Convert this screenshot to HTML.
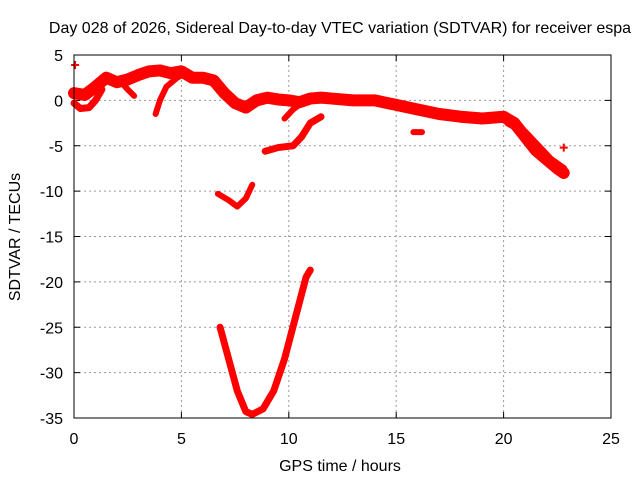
<!DOCTYPE html>
<html><head><meta charset="utf-8"><style>
body{margin:0;background:#fff;font-family:"Liberation Sans",sans-serif}
svg text{font-family:"Liberation Sans",sans-serif;font-size:16px;fill:#000}
</style></head><body>
<svg id="c" width="640" height="480" xmlns="http://www.w3.org/2000/svg">
<text x="340" y="33" text-anchor="middle">Day 028 of 2026, Sidereal Day-to-day VTEC variation (SDTVAR) for receiver espa</text>
<text x="340" y="471" text-anchor="middle">GPS time / hours</text>
<text transform="translate(20,237) rotate(-90)" text-anchor="middle">SDTVAR / TECUs</text>
<g id="grid"></g><g id="ticks"></g><g id="marks"></g>
<rect x="74" y="55" width="537" height="363" fill="none" stroke="#000" stroke-width="1"/>
</svg>
<script>
const xTicks=[0,5,10,15,20,25];
const yTicks=[5,0,-5,-10,-15,-20,-25,-30,-35];
const mainH=[0,0.5,1,1.5,2,2.5,3,3.5,4,4.5,5,5.5,6,6.5,7,7.5,8,8.5,9,9.5,10,10.5,11,11.5,12,13,14,15,16,17,18,19,20,20.5,21,21.5,22,22.5,22.8];
const mainV=[0.8,0.6,1.5,2.5,2.0,2.3,2.8,3.2,3.3,3.0,3.2,2.5,2.5,2.2,0.8,-0.3,-0.8,0.0,0.3,0.1,0.0,-0.2,0.2,0.3,0.2,0.0,0.0,-0.5,-1.0,-1.5,-1.8,-2.0,-1.8,-2.5,-4,-5.5,-6.5,-7.5,-8];
const s2H=[0,0.3,0.7,1.0,1.3];const s2V=[-0.3,-0.9,-0.8,0.0,1.2];
const s3H=[2.2,2.5,2.8];const s3V=[2.0,1.2,0.5];
const s4H=[3.8,4.0,4.3,4.8,5.2];const s4V=[-1.5,0,1.5,2.5,3.0];
const s5H=[9.8,10.2,10.6,11];const s5V=[-2.0,-1.0,-0.3,0];
const s6H=[8.9,9.5,10.2,10.6,11,11.5];const s6V=[-5.6,-5.2,-5.0,-4.0,-2.5,-1.8];
const s7H=[6.7,7.2,7.6,8.0,8.3];const s7V=[-10.3,-11,-11.7,-10.8,-9.3];
const s8H=[6.8,7.2,7.6,8.0,8.3,8.8,9.3,9.8,10.3,10.8,11.0];const s8V=[-25,-28.5,-32,-34.3,-34.6,-34,-32,-28.5,-24,-19.5,-18.7];
const s9H=[15.8,16.2];const s9V=[-3.5,-3.5];
const s10H=[20.2,21,21.6,22.2,22.8];const s10V=[-2.5,-3.5,-5,-6.5,-7.5];
const ptH=[0.05,22.8];const ptV=[3.9,-5.2];
const X=h=>74+h*(537/25), Y=v=>55+(5-v)*(363/40);
const NS='http://www.w3.org/2000/svg';
const g=document.getElementById('grid'),t=document.getElementById('ticks'),m=document.getElementById('marks');
function mk(p,tag,a){const e=document.createElementNS(NS,tag);for(const k in a)e.setAttribute(k,a[k]);p.appendChild(e);return e;}
xTicks.forEach(h=>{
 if(h>0&&h<25){const l=mk(g,'line',{x1:X(h),x2:X(h),y1:55,y2:418,stroke:'#999','stroke-dasharray':'2,3'});
 
 }
 const tx=mk(t,'text',{x:X(h),y:444,'text-anchor':'middle'});tx.textContent=h;
 
 
 mk(t,'line',{x1:X(h),x2:X(h),y1:418,y2:412,stroke:'#000'});mk(t,'line',{x1:X(h),x2:X(h),y1:55,y2:61,stroke:'#000'});
});
yTicks.forEach(v=>{
 if(v<5&&v>-35){const l=mk(g,'line',{x1:74,x2:611,y1:Y(v),y2:Y(v),stroke:'#999','stroke-dasharray':'2,3'});
 
 }
 const tx=mk(t,'text',{x:63,y:Y(v)+6,'text-anchor':'end'});tx.textContent=v;
 
 
 mk(t,'line',{x1:74,x2:80,y1:Y(v),y2:Y(v),stroke:'#000'});mk(t,'line',{x1:611,x2:605,y1:Y(v),y2:Y(v),stroke:'#000'});
});
const series=[[mainH,mainV,12],[s2H,s2V,7],[s3H,s3V,6],[s4H,s4V,6],[s5H,s5V,6],[s6H,s6V,7],[s7H,s7V,6],[s8H,s8V,7],[s9H,s9V,6],[s10H,s10V,7]];
series.forEach(([hs,vs,w])=>{
 const p=mk(m,'polyline',{points:hs.map((h,i)=>X(h)+','+Y(vs[i])).join(' '),fill:'none',stroke:'#f00','stroke-width':w,'stroke-linejoin':'round','stroke-linecap':'round'});
 
 
});
ptH.forEach((h,i)=>{
 const p=mk(m,'path',{d:`M${X(h)-4},${Y(ptV[i])}h8M${X(h)},${Y(ptV[i])-4}v8`,stroke:'#f00','stroke-width':2});
 
 
});
</script>
</body></html>
